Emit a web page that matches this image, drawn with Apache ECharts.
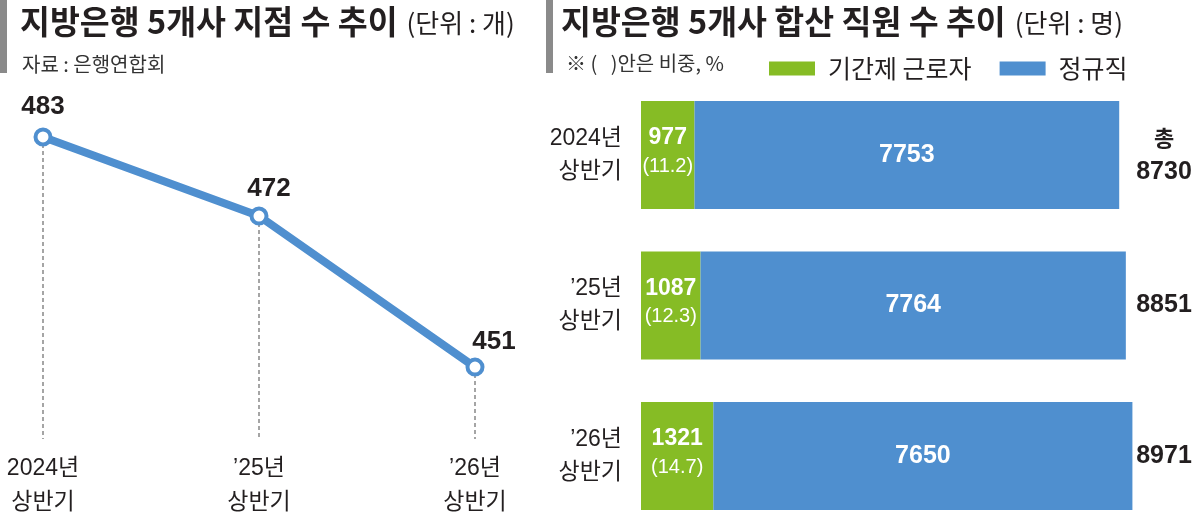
<!DOCTYPE html>
<html>
<head>
<meta charset="utf-8">
<script src="https://cdn.jsdelivr.net/npm/echarts@6/dist/echarts.min.js"></script>
<style>
  html, body { margin: 0; padding: 0; background: #fff; }
  #chart { width: 1200px; height: 513px; }
</style>
</head>
<body>
<div id="chart"></div>
<script>
// 기간 (두 차트 공통)
const periods = ['2024년\n상반기', '’25년\n상반기', '’26년\n상반기']
// 지점 수 (개)
const branches = [483, 472, 451]
// 직원 수 (명)
const contract = [977, 1087, 1321]
const regular = [7753, 7764, 7650]
// 기간제 비중 (%)
const shares = ['11.2', '12.3', '14.7']

const totals = contract.map((v, i) => v + regular[i])

const KR = "'Noto Sans CJK KR', sans-serif"
const NUM = "'Liberation Sans', Arial, 'Noto Sans CJK KR', sans-serif"
const INK = '#231f20'
const BLUE = '#4f8fcf'
const GREEN = '#86bc25'

// 라벨 위치 보정 (스타일)
const lineLabelOffsets = [[0, -3], [10, 0], [19, 2]]

const chart = echarts.init(document.getElementById('chart'), null, { renderer: 'canvas' })

const titleRich = {
  m: { fontSize: 32.5, fontWeight: 'bold', color: INK, fontFamily: KR },
  u: { fontSize: 26, fontWeight: 'normal', color: INK, fontFamily: KR, padding: [3, 0, 0, 9] }
}

const option = {
  backgroundColor: '#fff',
  animation: false,
  title: [
    { left: 15, top: 0, text: '{m|지방은행 5개사 지점 수 추이}{u|(단위 : 개)}', textStyle: { rich: titleRich } },
    { left: 17, top: 49, text: '자료 : 은행연합회', textStyle: { fontSize: 20, fontWeight: 'normal', color: '#333', fontFamily: KR } },
    { left: 556, top: 0, text: '{m|지방은행 5개사 합산 직원 수 추이}{u|(단위 : 명)}', textStyle: { rich: titleRich } },
    { left: 561, top: 48, text: '※ (   )안은 비중, %', textStyle: { fontSize: 20, fontWeight: 'normal', color: '#333', fontFamily: KR } }
  ],
  graphic: [
    { type: 'rect', shape: { x: 0, y: 0, width: 7, height: 73 }, style: { fill: '#8a8a8a' } },
    { type: 'rect', shape: { x: 546, y: 0, width: 7, height: 73 }, style: { fill: '#8a8a8a' } }
  ],
  legend: {
    data: ['기간제 근로자', '정규직'],
    left: 769,
    top: 56,
    padding: 0,
    itemWidth: 46,
    itemHeight: 14,
    itemGap: 28,
    icon: 'rect',
    textStyle: { fontSize: 25, color: INK, fontFamily: KR, padding: [0, 0, 0, 8] }
  },
  grid: [
    { left: 43, top: 122.6, width: 432, height: 323.6, outerBoundsMode: 'none' },
    { left: 641, top: 79.75, width: 493, height: 451.5, outerBoundsMode: 'none' }
  ],
  xAxis: [
    {
      gridIndex: 0,
      type: 'category',
      data: periods,
      boundaryGap: false,
      axisLine: { show: false },
      axisTick: { show: false },
      axisLabel: { margin: 5, fontSize: 23, lineHeight: 34, color: INK, fontFamily: NUM }
    },
    { gridIndex: 1, type: 'value', min: 0, max: 9000, show: false }
  ],
  yAxis: [
    { gridIndex: 0, type: 'value', min: 440, max: 485, show: false },
    {
      gridIndex: 1,
      type: 'category',
      data: periods,
      inverse: true,
      axisLine: { show: false },
      axisTick: { show: false },
      axisLabel: { margin: 19, fontSize: 23, lineHeight: 33, color: INK, fontFamily: NUM }
    },
    {
      gridIndex: 1,
      type: 'category',
      position: 'right',
      data: totals.map((t, i) => i === 0 ? '{k|총}\n{v|' + t + '}' : '{v|' + t + '}'),
      inverse: true,
      axisLine: { show: false },
      axisTick: { show: false },
      axisLabel: {
        margin: 30,
        align: 'center',
        rich: {
          k: { fontSize: 22, fontWeight: 'bold', color: INK, fontFamily: KR, lineHeight: 34 },
          v: { fontSize: 25, fontWeight: 'bold', color: INK, fontFamily: NUM, lineHeight: 34 }
        }
      }
    }
  ],
  series: [
    {
      type: 'line',
      xAxisIndex: 0,
      yAxisIndex: 0,
      data: branches.map((v, i) => ({ value: v, label: { offset: lineLabelOffsets[i] } })),
      symbol: 'circle',
      symbolSize: 15,
      lineStyle: { color: BLUE, width: 8 },
      itemStyle: { color: '#fff', borderColor: BLUE, borderWidth: 4 },
      z: 3,
      label: {
        show: true,
        position: 'top',
        fontSize: 26,
        fontWeight: 'bold',
        color: INK,
        fontFamily: NUM
      },
      markLine: {
        silent: true,
        symbol: 'none',
        label: { show: false },
        lineStyle: { color: '#888', type: [4, 3], width: 1.5 },
        z: 1,
        data: branches.map((v, i) => [{ coord: [i, v] }, { coord: [i, 441] }])
      }
    },
    {
      name: '기간제 근로자',
      type: 'bar',
      xAxisIndex: 1,
      yAxisIndex: 1,
      stack: 'staff',
      barWidth: 108,
      data: contract,
      itemStyle: { color: GREEN },
      label: {
        show: true,
        position: 'inside',
        offset: [0, -3],
        formatter: p => '{a|' + p.value + '}\n{b|(' + shares[p.dataIndex] + ')}',
        rich: {
          a: { fontSize: 23, fontWeight: 'bold', color: '#fff', fontFamily: NUM, lineHeight: 28 },
          b: { fontSize: 20, color: '#fff', fontFamily: NUM, lineHeight: 28 }
        }
      }
    },
    {
      name: '정규직',
      type: 'bar',
      xAxisIndex: 1,
      yAxisIndex: 1,
      stack: 'staff',
      barWidth: 108,
      data: regular,
      itemStyle: { color: BLUE },
      label: {
        show: true,
        position: 'inside',
        fontSize: 25,
        fontWeight: 'bold',
        color: '#fff',
        fontFamily: NUM
      }
    }
  ]
}

chart.setOption(option)
</script>
</body>
</html>
